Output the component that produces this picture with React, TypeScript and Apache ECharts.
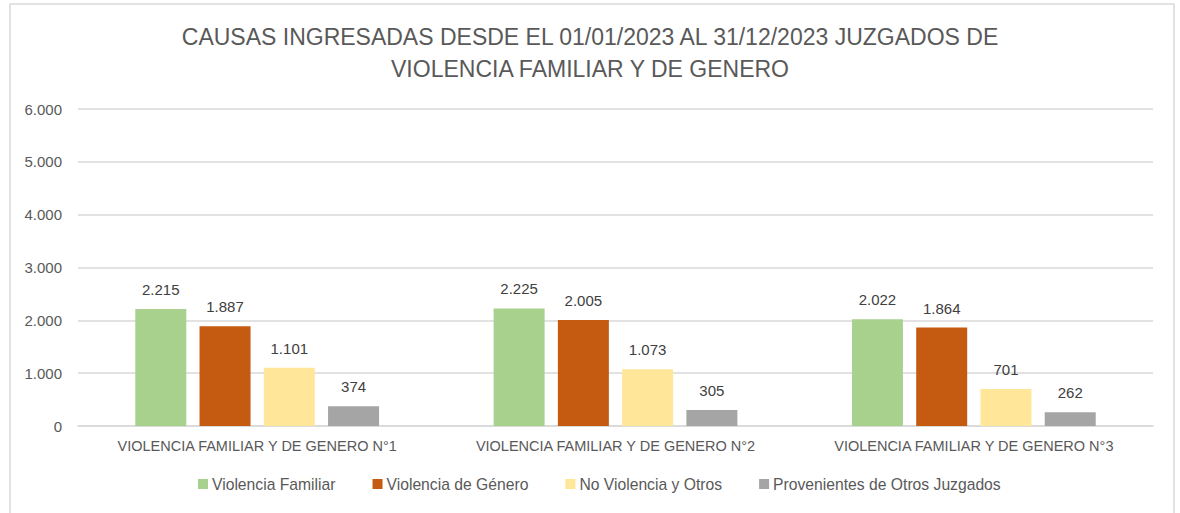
import React, { useEffect, useRef } from "react";
import * as echarts from "echarts";

const categories = [
  "VIOLENCIA FAMILIAR Y DE GENERO N°1",
  "VIOLENCIA FAMILIAR Y DE GENERO N°2",
  "VIOLENCIA FAMILIAR Y DE GENERO N°3",
];
const seriesNames = [
  "Violencia Familiar",
  "Violencia de Género",
  "No Violencia y Otros",
  "Provenientes de Otros Juzgados",
];
const violenciaFamiliar = [2215, 2225, 2022];
const violenciaGenero = [1887, 2005, 1864];
const noViolencia = [1101, 1073, 701];
const otrosJuzgados = [374, 305, 262];
const colors = ["#A9D18E", "#C55A11", "#FFE699", "#A5A5A5"];
const titleText =
  "CAUSAS INGRESADAS DESDE EL 01/01/2023 AL 31/12/2023 JUZGADOS DE\nVIOLENCIA FAMILIAR Y DE GENERO";

const FONT = "'Liberation Sans', Arial, sans-serif";

const fmt = (v: number) => {
  const s = String(Math.round(v));
  return s.replace(/\B(?=(\d{3})+(?!\d))/g, ".");
};

export default function App() {
  const ref = useRef<HTMLDivElement>(null);
  useEffect(() => {
    document.body.style.margin = "0";
    if (!ref.current) return;
    const chart = echarts.init(ref.current, undefined, { renderer: "svg" });
    const data = [violenciaFamiliar, violenciaGenero, noViolencia, otrosJuzgados];
    chart.setOption({
      animation: false,
      backgroundColor: "#ffffff",
      textStyle: { fontFamily: FONT },
      title: {
        text: titleText,
        left: "center",
        top: 16,
        textStyle: {
          fontFamily: FONT,
          fontSize: 23,
          fontWeight: "normal",
          color: "#595959",
          lineHeight: 32,
        },
      },
      legend: {
        bottom: 16,
        left: 193,
        itemWidth: 10,
        itemHeight: 10,
        itemGap: 37,
        icon: "rect",
        textStyle: { fontFamily: FONT, fontSize: 15.7, color: "#595959", padding: [0, 0, 0, -1] },
        data: seriesNames,
      },
      grid: { left: 78, right: 27, top: 109, bottom: 87, containLabel: false },
      xAxis: {
        type: "category",
        data: categories,
        axisLine: { lineStyle: { color: "#D9D9D9", width: 1.5 } },
        axisTick: { show: false },
        axisLabel: {
          fontFamily: FONT,
          fontSize: 14.5,
          color: "#595959",
          margin: 12,
          interval: 0,
        },
      },
      yAxis: {
        type: "value",
        min: 0,
        max: 6000,
        interval: 1000,
        axisLine: { show: false },
        axisTick: { show: false },
        splitLine: { lineStyle: { color: "#D9D9D9", width: 1.5 } },
        axisLabel: {
          fontFamily: FONT,
          fontSize: 15,
          color: "#595959",
          margin: 16,
          formatter: (v: number) => fmt(v),
        },
      },
      series: seriesNames.map((name, i) => ({
        name,
        type: "bar",
        data: data[i],
        barWidth: 51,
        barGap: "26%",
        itemStyle: { color: colors[i] },
        label: {
          show: true,
          position: "top",
          distance: 12,
          fontFamily: FONT,
          fontSize: 15,
          color: "#404040",
          formatter: (p: any) => fmt(p.value),
        },
      })),
      graphic: [
        {
          type: "rect",
          shape: { x: 10, y: 4, width: 1164, height: 520 },
          style: { fill: "none", stroke: "#D9D9D9", lineWidth: 1.5 },
          silent: true,
          z: -1,
        },
      ],
    });
    return () => chart.dispose();
  }, []);
  return <div ref={ref} style={{ width: 1180, height: 513 }} />;
}
